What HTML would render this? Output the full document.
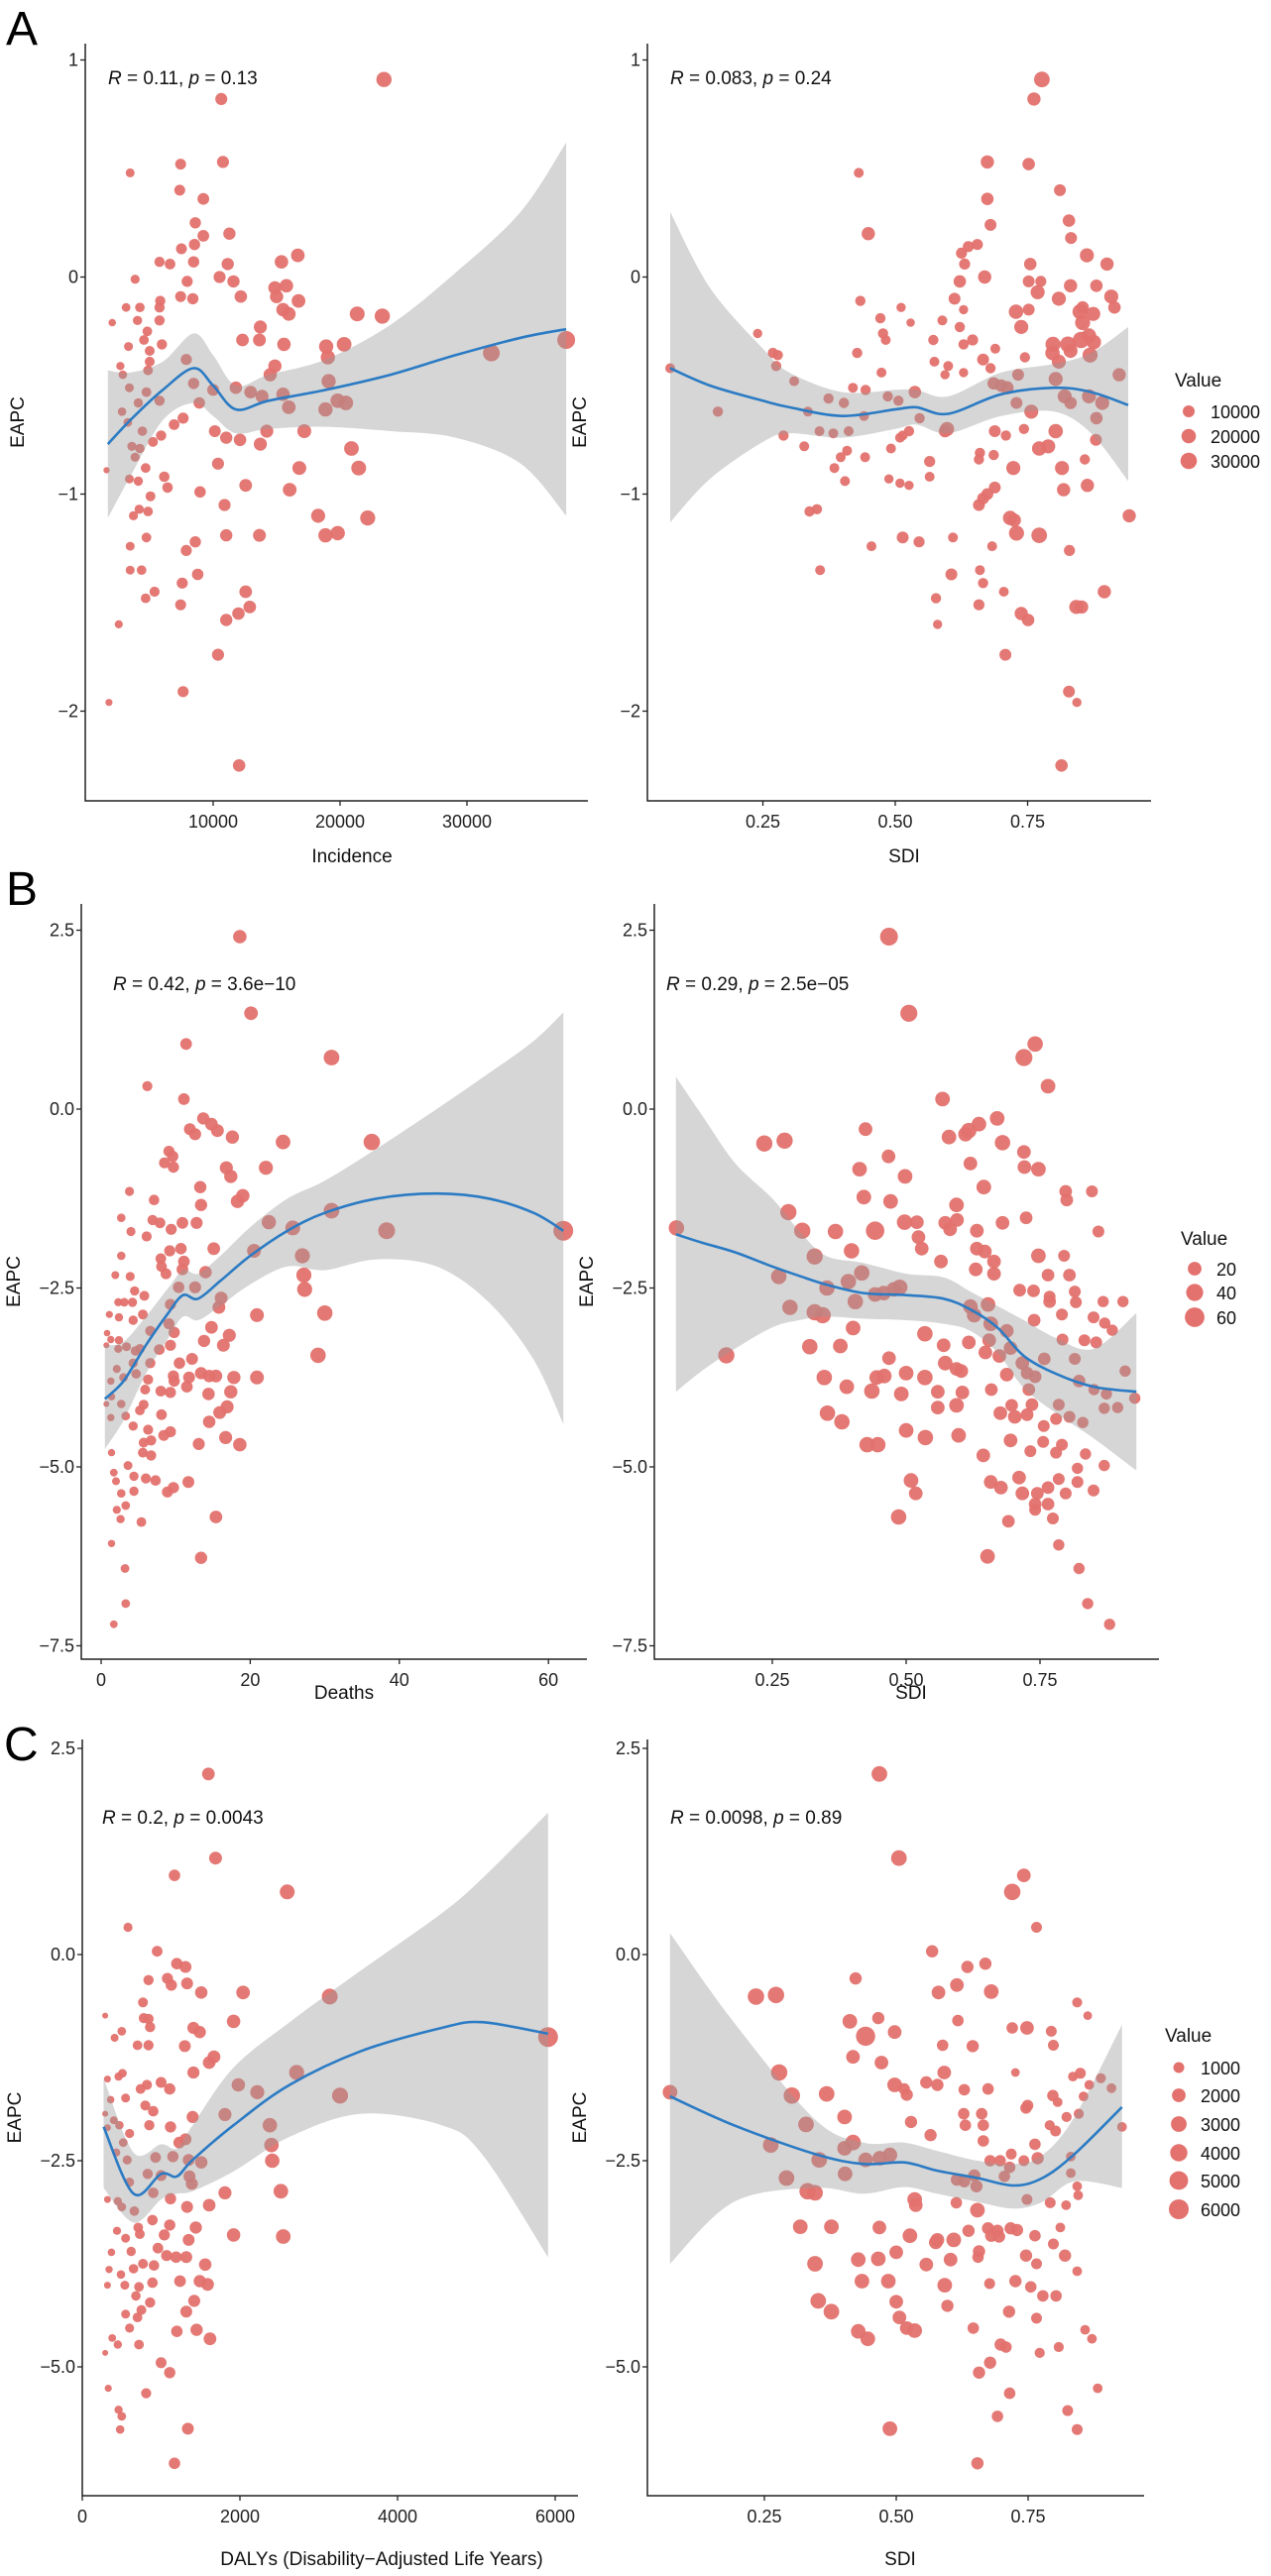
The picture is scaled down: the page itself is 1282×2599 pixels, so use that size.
<!DOCTYPE html>
<html><head><meta charset="utf-8">
<style>
html,body{margin:0;padding:0;background:#fff;}
svg{display:block;font-family:"Liberation Sans",Arial,sans-serif;}
</style></head>
<body>
<svg id="fig" width="1282" height="2599" viewBox="0 0 1282 2599" xmlns="http://www.w3.org/2000/svg"></svg>
<script>
// ---------- Panel A data ----------
const aLeftX=[23460,10640,10770,3460,7440,7370,9230,8590,9230,11280,8530,7500,5770,6600,8460,11150,3850,7950,10510,11600,15380,16670,14870,15770,15000,12180,7440,8400,5830,5770,3140,4230,16730,15510,15960,21350,23330,4040,2050,5770,4810,13720,4550,5000,3330,5960,12310,13650,15580,18910,20320,2690,2880,4870,5000,7880,14870,19040,31920,37820,3400,4740,4100,5770,8460,10000,11790,12950,13850,14490,15510,15960,19100,18850,19810,20450,2820,3270,7630,6920,5900,8910,4420,3590,4230,5260,10130,11030,12120,13720,14230,17180,20900,3850,4680,10380,16790,21470,3400,4100,6150,5060,6410,8970,12560,16030,1600,3720,4170,4870,10900,18270,22180,4740,8590,11030,13650,18850,19810,7880,3460,3460,4360,8780,7560,4680,5380,7440,12560,11030,11990,12880,2560,10380,7630,1790,12050];
const aLeftY=[0.91,0.82,0.53,0.48,0.52,0.40,0.36,0.25,0.19,0.20,0.15,0.13,0.07,0.06,0.07,0.06,-0.01,-0.02,0,-0.02,0.07,0.10,-0.05,-0.04,-0.09,-0.09,-0.09,-0.10,-0.11,-0.14,-0.14,-0.14,-0.11,-0.15,-0.17,-0.17,-0.18,-0.20,-0.21,-0.20,-0.25,-0.23,-0.29,-0.34,-0.32,-0.31,-0.29,-0.29,-0.31,-0.32,-0.31,-0.41,-0.45,-0.43,-0.39,-0.38,-0.41,-0.37,-0.35,-0.29,-0.51,-0.53,-0.58,-0.57,-0.49,-0.52,-0.51,-0.53,-0.55,-0.45,-0.54,-0.60,-0.48,-0.61,-0.57,-0.58,-0.62,-0.67,-0.65,-0.68,-0.73,-0.58,-0.71,-0.78,-0.79,-0.76,-0.71,-0.74,-0.75,-0.77,-0.71,-0.71,-0.79,-0.83,-0.88,-0.86,-0.88,-0.88,-0.93,-0.94,-0.92,-1.01,-0.97,-0.99,-0.96,-0.98,-0.89,-1.10,-1.07,-1.08,-1.05,-1.10,-1.11,-1.20,-1.22,-1.19,-1.19,-1.19,-1.18,-1.26,-1.24,-1.35,-1.35,-1.37,-1.41,-1.48,-1.45,-1.51,-1.45,-1.58,-1.55,-1.52,-1.60,-1.74,-1.91,-1.96,-2.25];
const aRightX=[0.777,0.762,0.431,0.674,0.752,0.811,0.674,0.828,0.680,0.449,0.832,0.655,0.638,0.625,0.631,0.862,0.900,0.755,0.669,0.752,0.775,0.622,0.831,0.880,0.769,0.809,0.908,0.612,0.434,0.854,0.914,0.511,0.629,0.752,0.728,0.849,0.874,0.472,0.529,0.589,0.738,0.854,0.622,0.866,0.240,0.477,0.572,0.646,0.798,0.826,0.851,0.875,0.482,0.629,0.689,0.269,0.278,0.428,0.797,0.831,0.868,0.666,0.745,0.809,0.574,0.275,0.600,0.680,0.732,0.474,0.594,0.629,0.923,0.803,0.309,0.420,0.444,0.537,0.686,0.711,0.700,0.820,0.866,0.891,0.374,0.403,0.486,0.506,0.729,0.831,0.757,0.165,0.335,0.441,0.546,0.598,0.594,0.803,0.688,0.709,0.743,0.880,0.289,0.357,0.383,0.412,0.514,0.526,0.509,0.772,0.789,0.879,0.328,0.409,0.492,0.660,0.686,0.397,0.443,0.565,0.658,0.858,0.723,0.815,0.385,0.405,0.488,0.509,0.526,0.565,0.688,0.818,0.863,0.674,0.666,0.658,0.942,0.338,0.352,0.717,0.725,0.729,0.772,0.514,0.545,0.609,0.455,0.683,0.829,0.358,0.660,0.606,0.666,0.577,0.705,0.658,0.738,0.751,0.842,0.852,0.895,0.580,0.708,0.828,0.843,0.814,0.075];
const aRightY=[0.91,0.82,0.48,0.53,0.52,0.40,0.36,0.26,0.24,0.20,0.18,0.15,0.14,0.11,0.06,0.10,0.06,0.06,0,-0.02,-0.02,-0.02,-0.04,-0.04,-0.07,-0.10,-0.09,-0.10,-0.11,-0.14,-0.14,-0.14,-0.15,-0.15,-0.16,-0.16,-0.17,-0.19,-0.21,-0.20,-0.23,-0.21,-0.23,-0.27,-0.26,-0.26,-0.29,-0.29,-0.31,-0.31,-0.29,-0.30,-0.29,-0.31,-0.33,-0.35,-0.36,-0.35,-0.35,-0.34,-0.36,-0.38,-0.37,-0.39,-0.39,-0.41,-0.41,-0.42,-0.45,-0.44,-0.45,-0.44,-0.45,-0.47,-0.48,-0.51,-0.52,-0.53,-0.49,-0.51,-0.50,-0.55,-0.55,-0.58,-0.56,-0.58,-0.55,-0.57,-0.58,-0.58,-0.62,-0.62,-0.62,-0.64,-0.65,-0.70,-0.71,-0.71,-0.71,-0.73,-0.70,-0.65,-0.73,-0.71,-0.72,-0.71,-0.73,-0.71,-0.74,-0.79,-0.78,-0.75,-0.78,-0.80,-0.79,-0.81,-0.82,-0.83,-0.83,-0.85,-0.84,-0.84,-0.88,-0.88,-0.88,-0.94,-0.93,-0.95,-0.96,-0.92,-0.97,-0.98,-0.96,-1.00,-1.02,-1.05,-1.10,-1.08,-1.07,-1.11,-1.12,-1.18,-1.19,-1.20,-1.22,-1.20,-1.24,-1.24,-1.26,-1.35,-1.35,-1.37,-1.41,-1.48,-1.45,-1.51,-1.55,-1.58,-1.52,-1.52,-1.45,-1.60,-1.74,-1.91,-1.96,-2.25,-0.42];
const aRightV=[25000,15000,5000,15000,12000,10000,12000,12000,10000,15000,10000,8000,8000,8000,8000,18000,15000,12000,15000,10000,8000,12000,15000,12000,18000,18000,18000,10000,6000,12000,12000,4000,4000,10000,20000,22000,18000,6000,3000,5000,18000,22000,6000,20000,4000,6000,6000,8000,22000,25000,30000,20000,5000,6000,5000,6000,6000,6000,20000,18000,22000,10000,6000,18000,5000,6000,5000,6000,10000,5000,4000,4000,15000,18000,5000,5000,6000,12000,12000,15000,12000,18000,18000,18000,6000,6000,6000,6000,10000,12000,18000,6000,5000,5000,6000,18000,12000,20000,10000,6000,6000,12000,6000,5000,5000,5000,5000,6000,5000,20000,18000,10000,5000,5000,5000,6000,6000,5000,5000,8000,6000,6000,18000,18000,5000,5000,4000,4000,4000,5000,10000,15000,15000,10000,10000,10000,15000,6000,6000,20000,15000,22000,25000,10000,8000,5000,5000,5000,8000,5000,5000,10000,6000,6000,5000,8000,15000,12000,18000,15000,15000,4000,10000,10000,4000,12000,5000];
const aLeftSmX=[1700,3460,6030,8460,10000,11790,14360,18850,23970,29100,34230,37820];
const aLeftSmY=[-0.77,-0.66,-0.52,-0.42,-0.50,-0.61,-0.57,-0.52,-0.45,-0.36,-0.28,-0.24];
const aLeftSmLo=[-1.11,-0.92,-0.66,-0.58,-0.64,-0.72,-0.70,-0.69,-0.71,-0.74,-0.86,-1.10];
const aLeftSmHi=[-0.43,-0.44,-0.39,-0.26,-0.36,-0.50,-0.45,-0.38,-0.22,0.02,0.30,0.62];
const aRightSmX=[0.075,0.15,0.25,0.30,0.40,0.50,0.54,0.60,0.70,0.80,0.87,0.94];
const aRightSmY=[-0.42,-0.50,-0.57,-0.60,-0.64,-0.61,-0.60,-0.63,-0.54,-0.51,-0.53,-0.59];
const aRightSmLo=[-1.13,-0.93,-0.76,-0.72,-0.74,-0.70,-0.68,-0.72,-0.64,-0.62,-0.72,-0.94];
const aRightSmHi=[0.30,-0.05,-0.33,-0.44,-0.53,-0.52,-0.52,-0.55,-0.44,-0.40,-0.35,-0.23];

// ---------- Panel B data ----------
const bLeftX=[18.6,20.1,11.4,30.9,6.2,11.1,11.9,12.6,13.7,14.8,15.6,17.6,24.4,36.3,9.1,9.6,8.5,9.7,16.8,17.4,22.1,3.8,13.3,7.1,13.4,19.0,18.3,30.9,2.7,6.9,7.9,10.9,12.8,22.5,25.7,38.3,62.0,4.0,6.1,9.4,10.7,9.2,15.1,20.5,2.7,8.0,8.1,11.1,27.0,1.9,3.9,8.7,10.9,14.0,27.2,10.4,12.6,27.3,4.5,5.8,2.3,3.1,4.2,9.3,15.8,16.1,1.1,2.4,4.3,5.6,20.9,30.0,9.1,6.6,9.8,14.8,17.2,0.8,1.3,2.4,0.7,2.3,3.4,13.8,16.4,4.6,5.2,9.3,7.8,4.3,6.6,12.2,10.5,29.1,2.1,3.0,4.7,6.3,9.7,9.8,11.8,13.4,14.5,15.4,17.8,20.9,1.3,11.5,8.0,5.9,14.4,17.4,1.4,0.7,2.7,5.7,9.3,16.9,15.9,1.3,3.3,5.2,8.1,14.5,6.3,4.3,9.3,8.4,6.7,5.7,16.7,18.6,13.1,5.6,6.7,1.4,3.6,1.7,4.4,6.0,7.3,11.7,2.0,9.7,8.9,4.4,2.7,2.1,3.3,2.6,5.4,15.4,1.4,13.4,3.2,3.3,1.7];
const bLeftY=[2.41,1.34,0.91,0.72,0.32,0.14,-0.28,-0.35,-0.13,-0.21,-0.30,-0.39,-0.46,-0.46,-0.59,-0.66,-0.75,-0.81,-0.82,-0.94,-0.82,-1.15,-1.09,-1.27,-1.34,-1.21,-1.29,-1.42,-1.52,-1.55,-1.59,-1.59,-1.59,-1.58,-1.66,-1.70,-1.70,-1.71,-1.78,-1.68,-1.95,-1.98,-1.95,-1.98,-2.05,-2.09,-2.20,-2.13,-2.05,-2.32,-2.34,-2.30,-2.24,-2.28,-2.32,-2.49,-2.49,-2.52,-2.54,-2.61,-2.70,-2.70,-2.70,-2.73,-2.77,-2.64,-2.87,-2.91,-2.95,-2.87,-2.88,-2.85,-3.00,-3.10,-3.12,-3.05,-3.16,-3.13,-3.22,-3.23,-3.30,-3.35,-3.32,-3.24,-3.30,-3.38,-3.35,-3.30,-3.36,-3.55,-3.55,-3.49,-3.55,-3.44,-3.63,-3.75,-3.70,-3.78,-3.73,-3.80,-3.75,-3.69,-3.73,-3.73,-3.75,-3.75,-3.80,-3.88,-3.94,-3.92,-3.98,-3.95,-4.02,-4.12,-4.12,-4.13,-3.96,-4.16,-4.24,-4.31,-4.29,-4.21,-4.27,-4.37,-4.48,-4.43,-4.51,-4.56,-4.63,-4.66,-4.59,-4.69,-4.68,-4.80,-4.84,-4.80,-4.98,-5.08,-5.13,-5.16,-5.19,-5.21,-5.20,-5.29,-5.35,-5.34,-5.37,-5.60,-5.54,-5.73,-5.77,-5.70,-6.07,-6.27,-6.42,-6.91,-7.20];
const bRightX=[0.468,0.505,0.741,0.720,0.765,0.568,0.670,0.636,0.617,0.611,0.424,0.235,0.273,0.467,0.580,0.680,0.720,0.620,0.413,0.721,0.747,0.498,0.594,0.421,0.645,0.798,0.847,0.800,0.471,0.280,0.497,0.520,0.573,0.595,0.582,0.680,0.724,0.306,0.368,0.442,0.071,0.632,0.859,0.523,0.529,0.398,0.632,0.647,0.747,0.329,0.565,0.664,0.795,0.630,0.664,0.765,0.805,0.417,0.262,0.392,0.488,0.477,0.458,0.352,0.442,0.712,0.738,0.815,0.768,0.405,0.768,0.653,0.817,0.868,0.905,0.283,0.620,0.329,0.344,0.627,0.850,0.871,0.791,0.401,0.658,0.535,0.688,0.739,0.885,0.792,0.833,0.855,0.570,0.617,0.655,0.695,0.320,0.377,0.164,0.648,0.674,0.573,0.717,0.758,0.468,0.815,0.594,0.603,0.688,0.726,0.741,0.347,0.535,0.459,0.445,0.500,0.823,0.909,0.851,0.874,0.389,0.436,0.491,0.559,0.605,0.659,0.729,0.895,0.927,0.594,0.559,0.697,0.735,0.785,0.870,0.353,0.380,0.676,0.703,0.726,0.780,0.805,0.757,0.830,0.500,0.598,0.536,0.427,0.447,0.695,0.756,0.791,0.732,0.780,0.835,0.644,0.820,0.870,0.711,0.658,0.677,0.509,0.518,0.717,0.745,0.765,0.785,0.798,0.820,0.850,0.741,0.765,0.741,0.774,0.691,0.486,0.785,0.652,0.823,0.839,0.880];
const bRightY=[2.41,1.34,0.91,0.72,0.32,0.14,-0.13,-0.21,-0.30,-0.35,-0.28,-0.48,-0.44,-0.66,-0.39,-0.47,-0.60,-0.76,-0.84,-0.81,-0.84,-0.94,-1.34,-1.23,-1.09,-1.15,-1.15,-1.27,-1.29,-1.44,-1.58,-1.58,-1.59,-1.55,-1.68,-1.59,-1.52,-1.70,-1.71,-1.70,-1.66,-1.70,-1.71,-1.79,-1.95,-1.98,-1.95,-1.99,-2.05,-2.06,-2.13,-2.13,-2.05,-2.24,-2.30,-2.32,-2.32,-2.29,-2.34,-2.41,-2.49,-2.52,-2.57,-2.50,-2.59,-2.53,-2.54,-2.55,-2.62,-2.69,-2.69,-2.73,-2.70,-2.69,-2.69,-2.77,-2.76,-2.84,-2.88,-2.88,-2.91,-2.99,-2.87,-3.06,-3.00,-3.14,-3.10,-2.95,-3.09,-3.22,-3.23,-3.26,-3.30,-3.26,-3.23,-3.34,-3.32,-3.31,-3.44,-3.40,-3.45,-3.55,-3.55,-3.49,-3.48,-3.49,-3.63,-3.66,-3.71,-3.69,-3.74,-3.75,-3.75,-3.73,-3.75,-3.69,-3.80,-3.66,-3.92,-3.98,-3.88,-3.94,-3.98,-3.95,-3.96,-3.92,-3.92,-4.17,-4.04,-4.14,-4.17,-4.14,-4.13,-4.13,-4.18,-4.25,-4.37,-4.25,-4.30,-4.27,-4.33,-4.30,-4.43,-4.38,-4.49,-4.56,-4.59,-4.69,-4.69,-4.63,-4.65,-4.69,-4.78,-4.80,-4.82,-4.84,-5.02,-4.98,-5.15,-5.21,-5.29,-5.19,-5.37,-5.37,-5.37,-5.29,-5.17,-5.37,-5.21,-5.33,-5.52,-5.52,-5.60,-5.72,-5.76,-5.70,-6.09,-6.25,-6.42,-6.91,-7.20];
const bRightV=[45,40,30,40,25,25,25,25,30,25,20,35,35,20,25,30,20,20,25,20,25,25,25,25,25,15,12,15,25,35,30,20,20,20,20,20,15,35,30,50,30,20,12,20,20,30,20,20,25,35,20,20,12,20,20,15,15,30,30,30,30,25,25,30,25,15,15,12,12,30,15,25,12,10,10,30,25,35,35,25,12,10,12,25,25,30,20,15,10,12,12,12,20,20,20,20,30,25,35,20,20,25,20,15,20,12,20,20,20,15,15,30,30,25,25,25,15,10,10,10,25,30,25,20,20,15,15,10,10,25,20,15,15,12,10,30,30,20,20,15,12,12,12,10,25,25,30,30,30,20,12,12,12,12,10,20,10,10,20,20,20,25,20,20,15,15,12,12,12,12,15,15,12,12,15,30,10,25,10,10,10];
const bLeftSmX=[0.5,3,6,9,11,13,16,20,25,30,37,45,52,58,62];
const bLeftSmY=[-4.05,-3.8,-3.3,-2.85,-2.6,-2.65,-2.4,-2.05,-1.7,-1.45,-1.25,-1.18,-1.25,-1.45,-1.7];
const bLeftSmLo=[-4.75,-4.35,-3.7,-3.2,-2.9,-2.95,-2.75,-2.45,-2.2,-2.25,-2.1,-2.2,-2.7,-3.5,-4.4];
const bLeftSmHi=[-3.3,-3.25,-2.9,-2.5,-2.25,-2.3,-2.05,-1.65,-1.25,-1.0,-0.55,0.0,0.5,0.95,1.35];
const bRightSmX=[0.07,0.12,0.18,0.25,0.30,0.35,0.42,0.50,0.57,0.62,0.67,0.72,0.78,0.85,0.93];
const bRightSmY=[-1.75,-1.87,-2.0,-2.2,-2.33,-2.45,-2.57,-2.6,-2.65,-2.8,-3.05,-3.45,-3.7,-3.88,-3.95];
const bRightSmLo=[-3.95,-3.65,-3.35,-3.05,-2.95,-2.9,-2.93,-2.95,-3.0,-3.1,-3.4,-3.9,-4.25,-4.6,-5.05];
const bRightSmHi=[0.45,-0.1,-0.75,-1.25,-1.7,-2.05,-2.15,-2.3,-2.35,-2.55,-2.75,-2.95,-3.2,-3.35,-2.85];

// ---------- Panel C data ----------
const cLeftX=[1600,1690,1170,2600,580,950,1200,1310,840,1080,1130,1330,1510,2040,3140,770,290,780,840,860,1920,1410,1490,500,410,700,840,1300,1670,1610,5910,1410,2720,320,460,510,740,820,1000,1110,1980,2220,3270,360,550,800,900,1400,1810,290,400,320,470,600,850,1120,2380,520,1230,1310,2400,430,570,930,1150,1350,1510,2410,830,1000,1360,600,1390,2520,1810,320,450,900,1120,500,660,1330,1610,890,1110,1440,710,730,440,1040,1920,2550,550,1350,370,960,620,1070,1190,1320,770,490,1560,340,650,910,540,720,890,1240,1490,1590,320,860,680,1420,750,1320,550,700,600,1200,1450,1620,380,450,720,290,1000,1110,330,810,460,500,480,1340,1170];
const cLeftY=[2.19,1.17,0.96,0.76,0.33,0.04,-0.11,-0.15,-0.31,-0.29,-0.37,-0.35,-0.46,-0.46,-0.51,-0.58,-0.74,-0.77,-0.78,-0.88,-0.81,-0.89,-0.94,-0.93,-1.01,-1.10,-1.10,-1.11,-1.24,-1.31,-1.00,-1.43,-1.43,-1.51,-1.48,-1.44,-1.63,-1.58,-1.55,-1.63,-1.58,-1.67,-1.71,-1.76,-1.74,-1.83,-1.90,-1.97,-1.94,-1.93,-2.01,-2.10,-2.07,-2.17,-2.07,-2.09,-2.07,-2.28,-2.28,-2.24,-2.31,-2.40,-2.49,-2.46,-2.45,-2.49,-2.52,-2.50,-2.66,-2.68,-2.69,-2.76,-2.78,-2.87,-2.89,-2.97,-2.99,-2.89,-2.96,-3.06,-3.11,-3.06,-3.04,-3.22,-3.28,-3.31,-3.31,-3.39,-3.35,-3.40,-3.40,-3.42,-3.44,-3.46,-3.61,-3.56,-3.60,-3.65,-3.67,-3.67,-3.75,-3.88,-3.76,-3.82,-3.81,-3.77,-4.01,-4.03,-3.98,-3.96,-3.96,-4.00,-4.01,-4.22,-4.14,-4.20,-4.31,-4.33,-4.36,-4.40,-4.53,-4.57,-4.55,-4.66,-4.65,-4.73,-4.73,-4.83,-4.95,-5.07,-5.26,-5.32,-5.52,-5.60,-5.76,-5.75,-6.17];
const cRightX=[0.468,0.505,0.742,0.720,0.766,0.568,0.669,0.635,0.423,0.615,0.234,0.272,0.580,0.680,0.843,0.863,0.466,0.412,0.617,0.720,0.748,0.794,0.798,0.497,0.442,0.588,0.645,0.418,0.472,0.726,0.278,0.591,0.557,0.578,0.629,0.674,0.497,0.515,0.849,0.888,0.908,0.866,0.835,0.520,0.302,0.368,0.071,0.797,0.749,0.628,0.662,0.746,0.806,0.855,0.528,0.402,0.329,0.631,0.665,0.823,0.791,0.928,0.846,0.565,0.802,0.665,0.763,0.262,0.418,0.402,0.354,0.488,0.469,0.442,0.718,0.742,0.768,0.831,0.678,0.697,0.403,0.292,0.648,0.615,0.715,0.831,0.705,0.843,0.332,0.346,0.652,0.629,0.614,0.535,0.537,0.654,0.748,0.792,0.822,0.845,0.318,0.377,0.468,0.674,0.692,0.717,0.729,0.811,0.637,0.526,0.578,0.609,0.680,0.695,0.763,0.575,0.798,0.500,0.657,0.655,0.746,0.820,0.428,0.466,0.557,0.603,0.766,0.346,0.843,0.435,0.485,0.592,0.677,0.726,0.755,0.778,0.803,0.597,0.352,0.377,0.500,0.714,0.766,0.506,0.520,0.535,0.428,0.446,0.646,0.858,0.871,0.698,0.708,0.772,0.808,0.678,0.657,0.882,0.715,0.692,0.825,0.843,0.488,0.654];
const cRightY=[2.19,1.17,0.96,0.76,0.33,0.04,-0.11,-0.15,-0.29,-0.37,-0.51,-0.49,-0.46,-0.45,-0.58,-0.74,-0.77,-0.81,-0.80,-0.89,-0.89,-0.93,-1.10,-0.94,-0.99,-1.10,-1.11,-1.24,-1.31,-1.43,-1.43,-1.43,-1.55,-1.58,-1.64,-1.63,-1.58,-1.63,-1.44,-1.50,-1.62,-1.58,-1.48,-1.70,-1.71,-1.69,-1.67,-1.71,-1.83,-1.93,-1.93,-1.86,-1.79,-1.72,-2.03,-1.97,-2.06,-2.07,-2.07,-1.97,-2.07,-2.09,-1.93,-2.19,-2.14,-2.26,-2.30,-2.31,-2.28,-2.35,-2.49,-2.43,-2.47,-2.49,-2.42,-2.50,-2.47,-2.45,-2.50,-2.50,-2.66,-2.71,-2.68,-2.73,-2.58,-2.65,-2.69,-2.81,-2.87,-2.89,-2.81,-2.75,-3.01,-2.97,-3.04,-3.10,-2.97,-3.01,-3.04,-2.92,-3.30,-3.30,-3.31,-3.32,-3.35,-3.32,-3.34,-3.31,-3.35,-3.41,-3.46,-3.46,-3.41,-3.42,-3.41,-3.49,-3.51,-3.61,-3.60,-3.67,-3.65,-3.65,-3.70,-3.69,-3.76,-3.70,-3.75,-3.75,-3.84,-3.96,-3.96,-4.01,-3.99,-3.96,-4.03,-4.14,-4.14,-4.26,-4.20,-4.33,-4.21,-4.33,-4.41,-4.40,-4.53,-4.56,-4.57,-4.66,-4.53,-4.55,-4.66,-4.73,-4.76,-4.83,-4.76,-4.95,-5.07,-5.26,-5.32,-5.60,-5.53,-5.76,-5.75,-6.17];
const cRightV=[3000,3000,2000,3500,1000,1500,1500,1500,1500,2000,3500,3500,2000,2500,800,500,1500,2500,1200,1200,2000,1000,1000,2000,5500,1200,1500,2000,2000,500,3500,2000,1500,1500,1200,1200,2500,1200,1000,800,700,700,700,1500,3500,3000,2500,1200,1200,1200,1200,1200,700,700,1500,2500,3000,1200,1200,800,800,700,800,1500,1000,1200,1200,3000,3000,2500,3000,2500,2500,2500,1000,1000,1500,700,1200,1200,2500,3000,1500,1500,1200,700,1200,700,3500,3000,1500,1500,1200,2500,2000,2500,1000,1000,700,700,2500,2500,2000,1500,1500,1500,1500,700,1500,2500,2000,2500,1500,1500,1200,2000,1000,2000,1500,1200,1500,1500,2500,2500,2000,2000,1000,3000,700,2500,2500,2500,1000,1500,1200,1200,1200,1500,3000,3000,2000,1500,1000,2000,2000,2500,2500,2500,1200,700,700,1500,1200,800,800,1500,1500,700,1200,1200,1000,1000,2500,1500];
const cLeftSmX=[270,650,1000,1200,1400,1920,2630,3540,4560,5070,5910];
const cLeftSmY=[-2.09,-2.9,-2.66,-2.69,-2.49,-2.07,-1.58,-1.17,-0.89,-0.82,-0.96];
const cLeftSmLo=[-2.83,-3.25,-2.97,-2.9,-2.87,-2.63,-2.21,-1.93,-2.07,-2.42,-3.67];
const cLeftSmHi=[-1.5,-2.4,-2.3,-2.35,-2.07,-1.37,-0.82,-0.19,0.5,0.92,1.72];
const cRightSmX=[0.071,0.192,0.346,0.438,0.515,0.577,0.654,0.723,0.777,0.838,0.928];
const cRightSmY=[-1.72,-2.07,-2.42,-2.54,-2.52,-2.62,-2.71,-2.80,-2.71,-2.42,-1.85];
const cRightSmLo=[-3.75,-3.0,-2.83,-2.9,-2.82,-2.9,-3.0,-3.08,-3.0,-2.75,-2.83];
const cRightSmHi=[0.26,-0.82,-2.0,-2.28,-2.28,-2.38,-2.5,-2.54,-2.43,-1.97,-0.85];

// tick arrays
const aLeftTicks=[10000,20000,30000];
const aLeftTickLabels=["10000","20000","30000"];
const aYTicks=[1,0,-1,-2];
const aYTickLabels=["1","0","-1","-2"];
const bLeftTicks=[0,20,40,60];
const bLeftTickLabels=["0","20","40","60"];
const bYTicks=[2.5,0,-2.5,-5,-7.5];
const bYTickLabels=["2.5","0.0","-2.5","-5.0","-7.5"];
const cLeftTicks=[0,2000,4000,6000];
const cLeftTickLabels=["0","2000","4000","6000"];
const cYTicks=[2.5,0,-2.5,-5];
const cYTickLabels=["2.5","0.0","-2.5","-5.0"];
const sdiTicks=[0.25,0.5,0.75];
const sdiTickLabels=["0.25","0.50","0.75"];
const aLegendVals=[10000,20000,30000];
const bLegendVals=[20,40,60];
const cLegendVals=[1000,2000,3000,4000,5000,6000];

const NS="http://www.w3.org/2000/svg";
const svg=document.getElementById('fig');
function mk(tag,attrs,parent){const e=document.createElementNS(NS,tag);for(const k in attrs)e.setAttribute(k,attrs[k]);(parent||svg).appendChild(e);return e;}
function lin(d0,p0,d1,p1){const k=(p1-p0)/(d1-d0);return v=>p0+(v-d0)*k;}
function minus(s){return s.replace(/-/g,'\u2212');}
function sizeFn(vmin,vmax,rmin,rmax){return v=>rmin+(rmax-rmin)*Math.sqrt(Math.max(0,Math.min(1,(v-vmin)/(vmax-vmin))));}
function smoothPath(pts){let d='M'+pts[0][0].toFixed(1)+','+pts[0][1].toFixed(1);
  for(let i=0;i<pts.length-1;i++){const p0=pts[i-1]||pts[i],p1=pts[i],p2=pts[i+1],p3=pts[i+2]||p2;
    const c1=[p1[0]+(p2[0]-p0[0])/6,p1[1]+(p2[1]-p0[1])/6],c2=[p2[0]-(p3[0]-p1[0])/6,p2[1]-(p3[1]-p1[1])/6];
    d+=' C'+c1[0].toFixed(1)+','+c1[1].toFixed(1)+' '+c2[0].toFixed(1)+','+c2[1].toFixed(1)+' '+p2[0].toFixed(1)+','+p2[1].toFixed(1);}
  return d;}

function subplot(o){
  const g=mk('g',{});
  
  
  // points
  const pg=mk('g',{},g);
  
  
  for(let i=0;i<o.xs.length;i++){
    const c=mk('circle',{cx:o.sx(o.xs[i]).toFixed(1),cy:o.sy(o.ys[i]).toFixed(1),r:o.sz(o.vs[i]).toFixed(1),fill:'#E3716D','fill-opacity':'0.95'},pg);
    
    
  }
  // band
  const up=o.smX.map((x,i)=>[o.sx(x),o.sy(o.smHi[i])]);
  const lo=o.smX.map((x,i)=>[o.sx(x),o.sy(o.smLo[i])]).reverse();
  let dBand=smoothPath(up)+' L'+lo[0][0].toFixed(1)+','+lo[0][1].toFixed(1)+smoothPath(lo).replace(/^M[^ ]+/,'')+' Z';
  const band=mk('path',{d:dBand,fill:'#999999','fill-opacity':'0.4',stroke:'none'},g);
  
  
  const line=mk('path',{d:smoothPath(o.smX.map((x,i)=>[o.sx(x),o.sy(o.smY[i])])),fill:'none',stroke:'#2B7BC4','stroke-width':'2.6'},g);
  
  
  // axes
  const ax=mk('path',{d:`M${o.x0},${o.yTop} L${o.x0},${o.yBot} L${o.x1},${o.yBot}`,fill:'none',stroke:'#222','stroke-width':'1.5'},g);
  
  
  o.xt.forEach((t,i)=>{const x=o.sx(t);
    mk('line',{x1:x,y1:o.yBot,x2:x,y2:o.yBot+5,stroke:'#222','stroke-width':'1.3'},g);
    const tx=mk('text',{x:x,y:o.yBot+27,'text-anchor':'middle','font-size':'18',fill:'#222'},g);
    tx.textContent=o.xtl[i];
    
    });
  o.yt.forEach((t,i)=>{const y=o.sy(t);
    mk('line',{x1:o.x0-5,y1:y,x2:o.x0,y2:y,stroke:'#222','stroke-width':'1.3'},g);
    const tx=mk('text',{x:o.x0-7,y:y+6,'text-anchor':'end','font-size':'18',fill:'#222'},g);
    tx.textContent=minus(o.ytl[i]);
    
    });
  const yt=mk('text',{x:0,y:0,transform:`translate(${o.x0-62},${(o.yTop+o.yBot)/2}) rotate(-90)`,'text-anchor':'middle','font-size':'19',fill:'#111'},g);
  yt.textContent='EAPC';
  
  
  const xt=mk('text',{x:o.titleX,y:o.titleY,'text-anchor':'middle','font-size':'19',fill:'#111'},g);
  xt.textContent=o.title;
  
  
  const an=mk('text',{x:o.annX,y:o.annY,'font-size':'19',fill:'#111'},g);
  an.innerHTML='<tspan font-style="italic">R</tspan> = '+o.ann[0]+', <tspan font-style="italic">p</tspan> = '+minus(o.ann[1]);
  
  
}
function legend(name,x,yTitle,ys,vals,sz,labels){
  const g=mk('g',{});
  
  
  const t=mk('text',{x:x-14,y:yTitle,'font-size':'19',fill:'#111'},g);
  t.textContent='Value';
  
  
  vals.forEach((v,i)=>{
    const c=mk('circle',{cx:x,cy:ys[i],r:sz(v).toFixed(1),fill:'#E3716D'},g);
    
    
    const l=mk('text',{x:x+22,y:ys[i]+7,'font-size':'18',fill:'#111'},g);
    l.textContent=labels[i];
    
    
  });
}
function letter(ch,x,y){const t=mk('text',{x:x,y:y,'font-size':'48',fill:'#000'});t.textContent=ch;
  
  }

// Panel A
const aSz=sizeFn(1600,37820,3.2,9);
const aSy=lin(0,279.5,1,60.5);
letter('A',6,45);
subplot({name:'panel-a-incidence',xs:aLeftX,ys:aLeftY,vs:aLeftX,sx:lin(0,87,10000,215),sy:aSy,sz:aSz,smX:aLeftSmX,smY:aLeftSmY,smLo:aLeftSmLo,smHi:aLeftSmHi,
  x0:86,x1:593,yTop:44,yBot:808,xt:aLeftTicks,xtl:aLeftTickLabels,yt:aYTicks,ytl:aYTickLabels,title:'Incidence',titleX:355,titleY:870,annX:109,annY:85,ann:['0.11','0.13']});
subplot({name:'panel-a-sdi',xs:aRightX,ys:aRightY,vs:aRightV,sx:lin(0,636,0.25,769.5),sy:aSy,sz:aSz,smX:aRightSmX,smY:aRightSmY,smLo:aRightSmLo,smHi:aRightSmHi,
  x0:653,x1:1161,yTop:44,yBot:808,xt:sdiTicks,xtl:sdiTickLabels,yt:aYTicks,ytl:aYTickLabels,title:'SDI',titleX:912,titleY:870,annX:676,annY:85,ann:['0.083','0.24']});
legend('legend-a',1199,390,[415,440,465],aLegendVals,aSz,["10000","20000","30000"]);

// Panel B
const bSz=sizeFn(0.7,62,3,10);
const bSy=lin(0,1119,2.5,938.5);
letter('B',6,913);
subplot({name:'panel-b-deaths',xs:bLeftX,ys:bLeftY,vs:bLeftX,sx:lin(0,102,20,252.4),sy:bSy,sz:bSz,smX:bLeftSmX,smY:bLeftSmY,smLo:bLeftSmLo,smHi:bLeftSmHi,
  x0:82,x1:592,yTop:912,yBot:1674,xt:bLeftTicks,xtl:bLeftTickLabels,yt:bYTicks,ytl:bYTickLabels,title:'Deaths',titleX:347,titleY:1714,annX:114,annY:999,ann:['0.42','3.6e-10']});
subplot({name:'panel-b-sdi',xs:bRightX,ys:bRightY,vs:bRightV,sx:lin(0,644,0.25,779),sy:bSy,sz:bSz,smX:bRightSmX,smY:bRightSmY,smLo:bRightSmLo,smHi:bRightSmHi,
  x0:660,x1:1169,yTop:912,yBot:1674,xt:sdiTicks,xtl:sdiTickLabels,yt:bYTicks,ytl:bYTickLabels,title:'SDI',titleX:919,titleY:1714,annX:672,annY:999,ann:['0.29','2.5e-05']});
legend('legend-b',1205,1256,[1280,1304,1329],bLegendVals,bSz,["20","40","60"]);

// Panel C
const cSz=sizeFn(290,5910,3,10);
const cSy=lin(0,1972,2.5,1764);
letter('C',4,1776);
subplot({name:'panel-c-dalys',xs:cLeftX,ys:cLeftY,vs:cLeftX,sx:lin(0,83,2000,242),sy:cSy,sz:cSz,smX:cLeftSmX,smY:cLeftSmY,smLo:cLeftSmLo,smHi:cLeftSmHi,
  x0:83,x1:583,yTop:1755,yBot:2518,xt:cLeftTicks,xtl:cLeftTickLabels,yt:cYTicks,ytl:cYTickLabels,title:'DALYs (Disability\u2212Adjusted Life Years)',titleX:385,titleY:2588,annX:103,annY:1840,ann:['0.2','0.0043']});
subplot({name:'panel-c-sdi',xs:cRightX,ys:cRightY,vs:cRightV,sx:lin(0,638,0.25,771),sy:cSy,sz:cSz,smX:cRightSmX,smY:cRightSmY,smLo:cRightSmLo,smHi:cRightSmHi,
  x0:653,x1:1154,yTop:1755,yBot:2518,xt:sdiTicks,xtl:sdiTickLabels,yt:cYTicks,ytl:cYTickLabels,title:'SDI',titleX:908,titleY:2588,annX:676,annY:1840,ann:['0.0098','0.89']});
legend('legend-c',1189,2060,[2086,2114,2143,2172,2200,2229],cLegendVals,cSz,["1000","2000","3000","4000","5000","6000"]);
</script>
</body></html>
